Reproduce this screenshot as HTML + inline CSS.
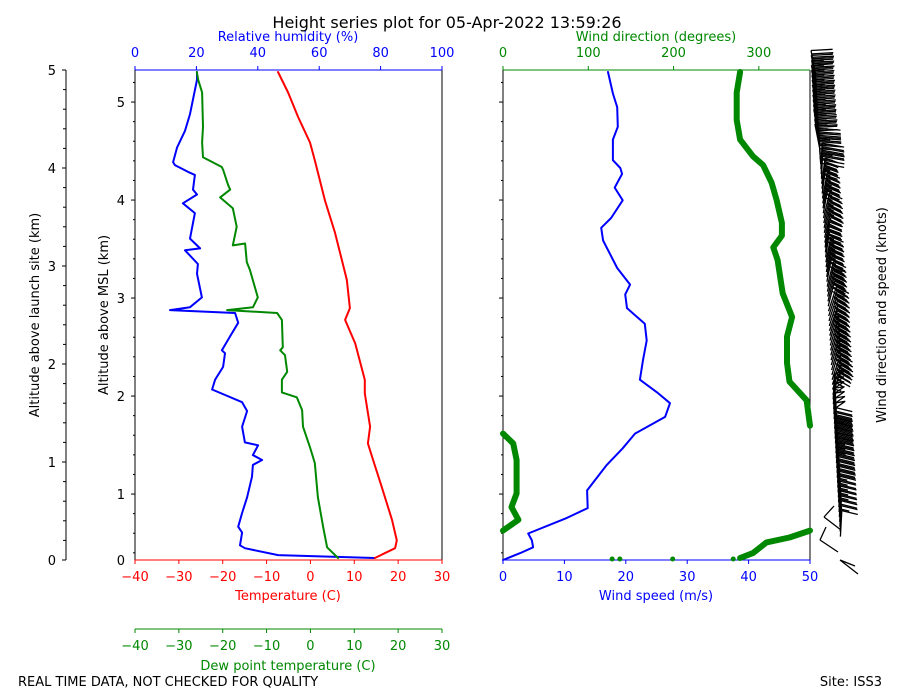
<!DOCTYPE html>
<html><head><meta charset="utf-8"><style>
body{margin:0;background:#fff;}
svg{display:block;font-family:"DejaVu Sans","Liberation Sans",sans-serif;}
</style></head><body>
<svg id="chart" width="900" height="700" viewBox="0 0 900 700" xmlns="http://www.w3.org/2000/svg">
<rect x="0" y="0" width="900" height="700" fill="#fff"/>
<text x="447" y="28" text-anchor="middle" font-size="16">Height series plot for 05-Apr-2022 13:59:26</text>
<g id="g-axes"></g>
<g id="g-series"></g>
<g id="g-barbs" stroke="#000" stroke-width="1.3" fill="none"></g>
<text x="18" y="686" font-size="13">REAL TIME DATA, NOT CHECKED FOR QUALITY</text>
<text x="882" y="686" font-size="13" text-anchor="end">Site: ISS3</text>
</svg>
<script>
// ---- data (altitude km above launch site) ----
const tempAlt=[0.02,0.12,0.20,0.41,0.74,1.02,1.19,1.36,1.70,1.84,2.21,2.45,2.57,2.86,3.34,3.67,4.08,4.26,4.52,4.77,4.98];
const tempVal=[14.7,19.3,19.7,18.6,16.3,14.3,13.1,13.6,12.4,12.4,10.2,7.9,9.0,8.3,5.6,3.3,1.0,-0.1,-2.8,-5.1,-7.4];
const dewAlt=[0.02,0.13,0.34,0.64,0.99,1.15,1.36,1.53,1.66,1.71,1.84,1.92,2.09,2.14,2.17,2.45,2.52,2.55,2.58,2.68,2.96,3.04,3.23,3.21,3.40,3.59,3.70,3.78,3.83,3.98,4.01,4.11,4.26,4.42,4.77,4.90,4.98];
const dewVal=[6.3,3.8,2.9,1.7,1.0,-0.1,-1.7,-1.9,-3.1,-6.5,-6.5,-5.3,-5.8,-6.9,-6.3,-6.5,-7.6,-19.0,-13.1,-12.0,-13.8,-14.5,-14.9,-17.7,-16.8,-17.7,-20.6,-18.3,-18.8,-19.9,-20.2,-24.5,-24.7,-24.5,-24.7,-25.6,-25.9];
const rhAlt=[0.02,0.05,0.12,0.15,0.28,0.34,0.48,0.64,0.85,0.97,1.02,1.07,1.17,1.20,1.36,1.52,1.61,1.74,1.84,1.97,2.11,2.14,2.28,2.42,2.52,2.55,2.58,2.68,2.92,3.02,3.14,3.16,3.18,3.28,3.54,3.64,3.73,3.78,3.93,3.96,4.03,4.06,4.21,4.38,4.55,4.90,4.98];
const rhVal=[78,46.6,35.8,34.2,34.9,33.6,34.9,36.5,38.1,38.4,41.4,38.4,40.1,35.8,34.9,36.5,34.9,25.1,26.1,28.7,29.3,28.3,30.9,33.6,32.6,11.4,17.9,21.8,20.2,20.5,16.9,16.3,21.2,17.9,19.5,15.6,20.2,18.9,19.5,17.3,13.0,12.4,13.7,16.3,17.9,20.2,20.2];
const wsAlt=[0.0,0.07,0.13,0.20,0.27,0.43,0.53,0.71,0.97,1.14,1.29,1.46,1.60,1.71,1.84,2.04,2.24,2.41,2.57,2.71,2.81,2.98,3.26,3.39,3.49,3.67,3.80,3.94,4.00,4.08,4.29,4.42,4.62,4.76,4.98];
const wsVal=[0,2.8,4.9,4.7,4.1,10.4,13.8,13.7,16.9,19.5,21.5,26.4,27.2,25.1,22.3,22.8,23.4,23.1,20.2,19.9,20.7,18.6,16.3,16.0,17.6,19.5,18.2,19.4,19.1,17.9,17.9,18.7,18.6,17.9,17.1];
const wdAlt=[0.02,0.07,0.18,0.23,0.30,0.30,0.41,0.54,0.68,1.02,1.19,1.29,1.37,1.37,1.63,1.82,2.01,2.28,2.48,2.72,3.06,3.19,3.31,3.44,3.67,3.85,4.03,4.12,4.29,4.49,4.77,4.98];
const wdVal=[278,293,309,336,360,0,18,10,16,16,12,0,360,360,356,336,333,333,339,328,322,317,327,327,321,315,305,293,278,274,274,278];
const wdDotAlt=[0.01,0.01,0.01,0.01];
const wdDotVal=[128,137,199,270];
const tTicks=[-40,-30,-20,-10,0,10,20,30];
const rhTicks=[0,20,40,60,80,100];
const wsTicks=[0,10,20,30,40,50];
const wdTicks=[0,100,200,300];
const altTicks=[0,1,2,3,4,5];
const mslTicks=[1,2,3,4,5];
const mslOffset=0.327;

// ---- scales ----
const Y=a=>560-a*98;
const XT=t=>135+(t+40)*307/70;
const XRH=r=>135+r*3.07;
const XWS=s=>503+s*6.14;
const XWD=d=>503+d*307/360;
const NS="http://www.w3.org/2000/svg";
const gA=document.getElementById('g-axes'),gS=document.getElementById('g-series'),gB=document.getElementById('g-barbs');
function mk(tag,at,parent){const e=document.createElementNS(NS,tag);for(const k in at)e.setAttribute(k,at[k]);parent.appendChild(e);return e;}
function txt(x,y,s,col,anchor,size,parent){const e=mk('text',{x:x,y:y,fill:col,'text-anchor':anchor,'font-size':size},parent);e.textContent=s;return e;}

// left outer axis
let e=mk('line',{x1:66,y1:70,x2:66,y2:560,stroke:'#000','stroke-width':1},gA);


for(let i=0;i<=25;i++){const y=Y(i*0.2);mk('line',{x1:i%5?63:62,y1:y,x2:66,y2:y,stroke:'#000'},gA);}
altTicks.forEach(v=>{e=txt(56,Y(v)+5,String(v),'#000','end',13,gA);

});
e=txt(0,0,'Altitude above launch site (km)','#000','middle',13,gA);e.setAttribute('transform','translate(39,315) rotate(-90)');



// left panel frame
mk('line',{x1:135,y1:70,x2:135,y2:560,stroke:'#000'},gA);
mk('line',{x1:442,y1:70,x2:442,y2:560,stroke:'#000'},gA);
e=mk('line',{x1:135,y1:70,x2:442,y2:70,stroke:'#00f'},gA);


e=mk('line',{x1:135,y1:560,x2:442,y2:560,stroke:'#f00'},gA);


e=mk('line',{x1:135,y1:629,x2:442,y2:629,stroke:'#080'},gA);


for(let m=0.4;m<=5.33;m+=0.2){const a=m-mslOffset;const y=Y(a);if(y<70)continue;const maj=Math.abs(m-Math.round(m))<0.01;
mk('line',{x1:maj?131:133,y1:y,x2:135,y2:y,stroke:'#000'},gA);
mk('line',{x1:maj?499:501,y1:y,x2:503,y2:y,stroke:'#000'},gA);}
mslTicks.forEach(v=>{e=txt(125,Y(v-mslOffset)+5,String(v),'#000','end',13,gA);

});
txt(125,565,'0','#000','end',13,gA);
e=txt(0,0,'Altitude above MSL (km)','#000','middle',13,gA);e.setAttribute('transform','translate(108,315) rotate(-90)');


tTicks.forEach(v=>{const x=XT(v);
mk('line',{x1:x,y1:560,x2:x,y2:564,stroke:'#f00'},gA);
e=txt(x,581,v<0?'\u2212'+(-v):String(v),'#f00','middle',13,gA);


mk('line',{x1:x,y1:629,x2:x,y2:633,stroke:'#080'},gA);
e=txt(x,650,v<0?'\u2212'+(-v):String(v),'#080','middle',13,gA);

});
rhTicks.forEach(v=>{const x=XRH(v);mk('line',{x1:x,y1:66,x2:x,y2:70,stroke:'#00f'},gA);
e=txt(x,57,String(v),'#00f','middle',13,gA);

});
e=txt(288,41,'Relative humidity (%)','#00f','middle',13,gA);


e=txt(288,600,'Temperature (C)','#f00','middle',13,gA);


e=txt(288,670,'Dew point temperature (C)','#080','middle',13,gA);



// right panel frame
mk('line',{x1:503,y1:70,x2:503,y2:560,stroke:'#000'},gA);
mk('line',{x1:810,y1:70,x2:810,y2:560,stroke:'#000'},gA);
e=mk('line',{x1:503,y1:70,x2:810,y2:70,stroke:'#080'},gA);


e=mk('line',{x1:503,y1:560,x2:810,y2:560,stroke:'#00f'},gA);


wsTicks.forEach(v=>{const x=XWS(v);mk('line',{x1:x,y1:560,x2:x,y2:564,stroke:'#00f'},gA);
e=txt(x,581,String(v),'#00f','middle',13,gA);

});
wdTicks.forEach(v=>{const x=XWD(v);mk('line',{x1:x,y1:66,x2:x,y2:70,stroke:'#080'},gA);
e=txt(x,57,String(v),'#080','middle',13,gA);

});
e=txt(656,41,'Wind direction (degrees)','#080','middle',13,gA);


e=txt(656,600,'Wind speed (m/s)','#00f','middle',13,gA);


e=txt(0,0,'Wind direction and speed (knots)','#000','middle',13,gA);e.setAttribute('transform','translate(886,315) rotate(-90)');



// series
function line(alts,vals,xf,col,w,name){const d=alts.map((a,i)=>(i?'L':'M')+xf(vals[i]).toFixed(1)+','+Y(a).toFixed(1)).join('');
const p=mk('path',{d:d,stroke:col,'stroke-width':w,fill:'none','stroke-linejoin':'round','stroke-linecap':'round'},gS);

}
line(rhAlt,rhVal,XRH,'#00f',2,'rh-line');
line(dewAlt,dewVal,XT,'#080',2,'dewpoint-line');
line(tempAlt,tempVal,XT,'#f00',2,'temperature-line');
line(wsAlt,wsVal,XWS,'#00f',2,'wind-speed-line');
let segA=[wdAlt[0]],segV=[wdVal[0]];
for(let i=1;i<wdAlt.length;i++){if(Math.abs(wdVal[i]-wdVal[i-1])>180){line(segA,segV,XWD,'#080',6,'wind-direction-line');segA=[];segV=[];}
segA.push(wdAlt[i]);segV.push(wdVal[i]);}
line(segA,segV,XWD,'#080',6,'wind-direction-line');
wdDotAlt.forEach((a,i)=>{const c=mk('circle',{cx:XWD(wdDotVal[i]),cy:Y(a),r:2.5,fill:'#080'},gS);

});

// wind barbs
function interp(alts,vals,a){for(let i=1;i<alts.length;i++){if(a<=alts[i]){const t=(a-alts[i-1])/((alts[i]-alts[i-1])||1);return vals[i-1]+t*(vals[i]-vals[i-1]);}}return vals[vals.length-1];}
function nearestDir(a){let b=0,bd=1e9;wdAlt.forEach((x,i)=>{const d=Math.abs(x-a);if(d<bd){bd=d;b=i;}});return wdVal[b];}
for(let a=0.3;a<=5.0;a+=0.05){
 const kt=interp(wsAlt,wsVal,a)*1.944;let dir=nearestDir(a);if(dir<90)dir+=360;
 let deg=Math.max(-12,Math.min(18,(dir-300)*0.5));if(dir>350)deg=3;
 const ang=deg*Math.PI/180;
 const bx=816+(1-a/5)*26,by=Y(a)+6;const L=26;
 const ux=Math.sin(ang),uy=-Math.cos(ang);
 const tx=bx+L*ux,ty=by+L*uy;
 const px=Math.cos(ang),py=Math.sin(ang);
 const fl=a<1.4?16:(a<3.9?13:22);
 let d='M'+bx.toFixed(1)+','+by.toFixed(1)+'L'+tx.toFixed(1)+','+ty.toFixed(1);
 let rem=kt,pos=0;
 while(rem>=47.5){const x0=tx-ux*pos,y0=ty-uy*pos;d+='M'+x0.toFixed(1)+','+y0.toFixed(1)+'L'+(x0+px*fl*0.7).toFixed(1)+','+(y0+py*fl*0.7-2).toFixed(1)+'L'+(x0-ux*5).toFixed(1)+','+(y0-uy*5).toFixed(1);rem-=50;pos+=6;}
 while(rem>=7.5){const x0=tx-ux*pos,y0=ty-uy*pos;d+='M'+x0.toFixed(1)+','+y0.toFixed(1)+'L'+(x0+px*fl).toFixed(1)+','+(y0+py*fl+3).toFixed(1);rem-=10;pos+=3.5;}
 if(rem>=2.5){const x0=tx-ux*pos,y0=ty-uy*pos;d+='M'+x0.toFixed(1)+','+y0.toFixed(1)+'L'+(x0+px*fl/2).toFixed(1)+','+(y0+py*fl/2+1.5).toFixed(1);}
 const p=mk('path',{d:d},gB);
 
 
}
[[841,530,824,517,834,506],[838,552,820,540,826,527],[858,574,840,560,855,566]].forEach(q=>{const p=mk('path',{d:'M'+q[0]+','+q[1]+'L'+q[2]+','+q[3]+'M'+q[2]+','+q[3]+'L'+q[4]+','+q[5]},gB);

});
</script>
</body></html>
